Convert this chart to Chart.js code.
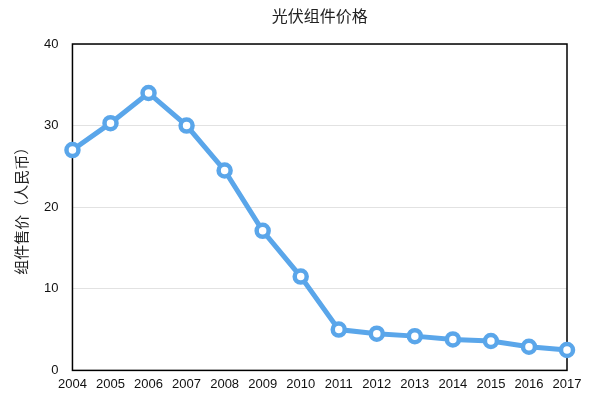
<!DOCTYPE html>
<html><head><meta charset="utf-8">
<script src="https://cdn.jsdelivr.net/npm/chart.js@4"></script>
<style>html,body{margin:0;padding:0;background:#fff}#wrap{width:592px;height:399px}</style>
</head><body><div id="wrap"><canvas id="c" width="592" height="399"></canvas></div>
<script>
const categories = ['2004','2005','2006','2007','2008','2009','2010','2011','2012','2013','2014','2015','2016','2017'];
const prices = [27.0, 30.3, 34.0, 30.0, 24.5, 17.1, 11.5, 5.0, 4.5, 4.2, 3.8, 3.6, 2.9, 2.5];
const yTicks = [0, 10, 20, 30, 40];
const title = '光伏组件价格';
const yTitle = '组件售价（人民币）';

const boxPlugin = {
  id: 'box',
  beforeDatasetsDraw(chart) {
    const {ctx, chartArea: a} = chart;
    ctx.save();
    ctx.strokeStyle = '#000';
    ctx.lineWidth = 1.5;
    ctx.strokeRect(a.left, a.top, a.right - a.left, a.bottom - a.top);
    ctx.restore();
  },
  afterDraw(chart) {
    const {ctx, chartArea: a} = chart;
    ctx.save();
    ctx.fillStyle = '#222';
    ctx.font = '16px "Noto Sans CJK SC", sans-serif';
    ctx.textAlign = 'center';
    ctx.textBaseline = 'middle';
    ctx.fillText(title, (a.left + a.right) / 2, 16);
    ctx.restore();
  }
};

new Chart(document.getElementById('c'), {
  type: 'line',
  data: {
    labels: categories,
    datasets: [{
      data: prices,
      borderColor: '#5aa6ea',
      borderWidth: 5,
      pointRadius: 6,
      pointBorderWidth: 4.5,
      pointBackgroundColor: '#fff',
      pointBorderColor: '#5aa6ea',
      tension: 0,
      clip: false
    }]
  },
  options: {
    responsive: false,
    animation: false,
    layout: {padding: {left: 12, right: 25, top: 44, bottom: 1}},
    plugins: {
      legend: {display: false},
      tooltip: {enabled: false},
      title: {display: false}
    },
    scales: {
      x: {
        offset: false,
        grid: {display: false, drawTicks: false},
        border: {display: false},
        ticks: {color: '#111', maxRotation: 0, autoSkip: false, padding: 6,
          font: {family: '"Liberation Sans", Arial, sans-serif', size: 13}}
      },
      y: {
        min: 0, max: 40,
        afterBuildTicks(axis) { axis.ticks = yTicks.map(v => ({value: v})); },
        grid: {color: '#e2e2e2', lineWidth: 1, drawTicks: false},
        border: {display: false},
        ticks: {color: '#111', padding: 14,
          font: {family: '"Liberation Sans", Arial, sans-serif', size: 13}},
        title: {display: true, text: yTitle, color: '#222', padding: {top: 0, bottom: 0},
          font: {family: '"Noto Sans CJK SC", sans-serif', size: 15}}
      }
    }
  },
  plugins: [boxPlugin]
});
</script></body></html>
